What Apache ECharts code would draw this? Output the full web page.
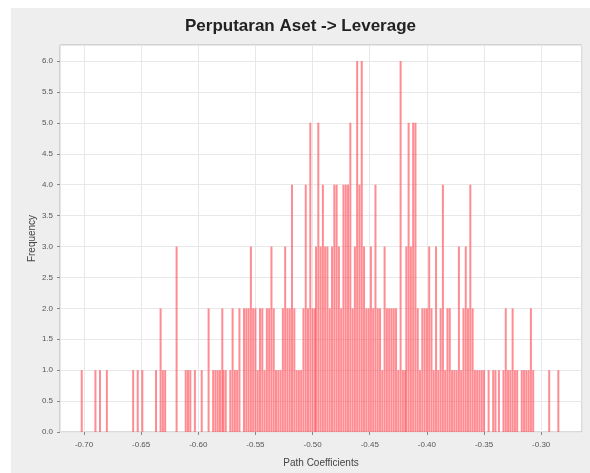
<!DOCTYPE html>
<html>
<head>
<meta charset="utf-8">
<script src="https://cdn.jsdelivr.net/npm/echarts@6/dist/echarts.min.js"></script>
<style>
html,body{margin:0;padding:0;background:#ffffff;width:590px;height:473px;overflow:hidden;}
#chart{position:absolute;left:11px;top:8px;width:579px;height:465px;}
</style>
</head>
<body>
<div id="chart"></div>
<script>
// Path coefficient of each histogram bin (bin centre)
const coefficients = [
  -0.702, -0.690, -0.686, -0.680, -0.657, -0.653, -0.649, -0.637, -0.633, -0.631,
  -0.629, -0.619, -0.611, -0.609, -0.607, -0.603, -0.597, -0.591, -0.587, -0.585,
  -0.583, -0.581, -0.579, -0.578, -0.576, -0.572, -0.570, -0.568, -0.566, -0.564,
  -0.560, -0.558, -0.556, -0.554, -0.552, -0.550, -0.548, -0.546, -0.544, -0.542,
  -0.540, -0.538, -0.536, -0.534, -0.532, -0.530, -0.528, -0.526, -0.524, -0.522,
  -0.520, -0.518, -0.516, -0.514, -0.512, -0.510, -0.508, -0.506, -0.504, -0.502,
  -0.500, -0.498, -0.497, -0.495, -0.493, -0.491, -0.489, -0.487, -0.485, -0.483,
  -0.481, -0.479, -0.477, -0.475, -0.473, -0.471, -0.469, -0.467, -0.465, -0.463,
  -0.461, -0.459, -0.457, -0.455, -0.453, -0.451, -0.449, -0.447, -0.445, -0.443,
  -0.441, -0.439, -0.437, -0.435, -0.433, -0.431, -0.429, -0.427, -0.425, -0.423,
  -0.421, -0.419, -0.418, -0.416, -0.414, -0.412, -0.410, -0.408, -0.406, -0.404,
  -0.402, -0.400, -0.398, -0.396, -0.394, -0.392, -0.390, -0.388, -0.386, -0.384,
  -0.382, -0.380, -0.378, -0.376, -0.374, -0.372, -0.370, -0.368, -0.366, -0.364,
  -0.362, -0.360, -0.358, -0.356, -0.354, -0.352, -0.350, -0.346, -0.342, -0.340,
  -0.337, -0.333, -0.331, -0.329, -0.327, -0.325, -0.323, -0.321, -0.317, -0.315,
  -0.313, -0.311, -0.309, -0.307, -0.293, -0.285
];
// Frequency of each bin
const frequencies = [
  1, 1, 1, 1, 1, 1, 1, 1, 2, 1,
  1, 3, 1, 1, 1, 1, 1, 2, 1, 1,
  1, 1, 2, 1, 1, 1, 2, 1, 1, 2,
  2, 2, 2, 3, 2, 2, 1, 2, 2, 1,
  2, 2, 3, 2, 1, 1, 1, 2, 3, 2,
  2, 4, 2, 1, 1, 1, 2, 4, 2, 5,
  2, 2, 3, 5, 3, 4, 3, 3, 2, 3,
  4, 4, 3, 2, 4, 4, 4, 5, 2, 3,
  6, 4, 6, 3, 2, 2, 3, 2, 4, 2,
  2, 1, 3, 2, 2, 2, 2, 2, 1, 6,
  1, 1, 3, 5, 3, 5, 5, 2, 1, 2,
  2, 2, 3, 2, 1, 3, 1, 2, 4, 1,
  2, 2, 1, 1, 1, 3, 1, 2, 3, 2,
  4, 2, 1, 1, 1, 1, 1, 1, 1, 1,
  1, 1, 2, 1, 1, 2, 1, 1, 1, 1,
  1, 1, 2, 1, 1, 1
];

const titleText = 'Perputaran Aset -> Leverage';
const xName = 'Path Coefficients';
const yName = 'Frequency';

const seriesData = coefficients.map((c, i) => [c, frequencies[i]]);

const chart = echarts.init(document.getElementById('chart'), null, {renderer: 'canvas'});
chart.setOption({
  backgroundColor: '#eeeeee',
  animation: false,
  title: {
    text: titleText,
    left: 'center',
    top: 5,
    textStyle: {fontFamily: 'Liberation Sans, Arial, sans-serif', fontSize: 17, fontWeight: 'bold', color: '#222'}
  },
  grid: {
    left: 49, top: 37, width: 522, height: 387,
    show: true, backgroundColor: '#ffffff', borderColor: '#b4b4b4', borderWidth: 1
  },
  xAxis: {
    type: 'value',
    min: -0.721, max: -0.2643,
    splitNumber: 9,
    name: xName,
    nameLocation: 'middle',
    nameGap: 26,
    nameMoveOverlap: false,
    nameTextStyle: {fontFamily: 'Liberation Sans, Arial, sans-serif', fontSize: 10, color: '#444'},
    axisLine: {show: false},
    axisTick: {show: true, length: 3, lineStyle: {color: '#888'}},
    axisLabel: {
      showMinLabel: false, showMaxLabel: false,
      formatter: v => v.toFixed(2),
      fontFamily: 'Liberation Sans, Arial, sans-serif', fontSize: 8, color: '#555', margin: 9
    },
    splitLine: {show: true, lineStyle: {color: '#e8e8e8', width: 1}}
  },
  yAxis: {
    type: 'value',
    min: 0, max: 6.259,
    splitNumber: 12,
    name: yName,
    nameLocation: 'middle',
    nameGap: 23,
    nameMoveOverlap: false,
    nameTextStyle: {fontFamily: 'Liberation Sans, Arial, sans-serif', fontSize: 10, color: '#444'},
    axisLine: {show: false},
    axisTick: {show: true, length: 3, lineStyle: {color: '#888'}},
    axisLabel: {
      showMaxLabel: false,
      formatter: v => v.toFixed(1),
      fontFamily: 'Liberation Sans, Arial, sans-serif', fontSize: 8, color: '#555', margin: 7
    },
    splitLine: {show: true, lineStyle: {color: '#e8e8e8', width: 1}}
  },
  series: [{
    type: 'bar',
    data: seriesData,
    barWidth: 2,
    itemStyle: {color: 'rgba(255,80,90,0.66)'}
  }]
});
</script>
</body>
</html>
